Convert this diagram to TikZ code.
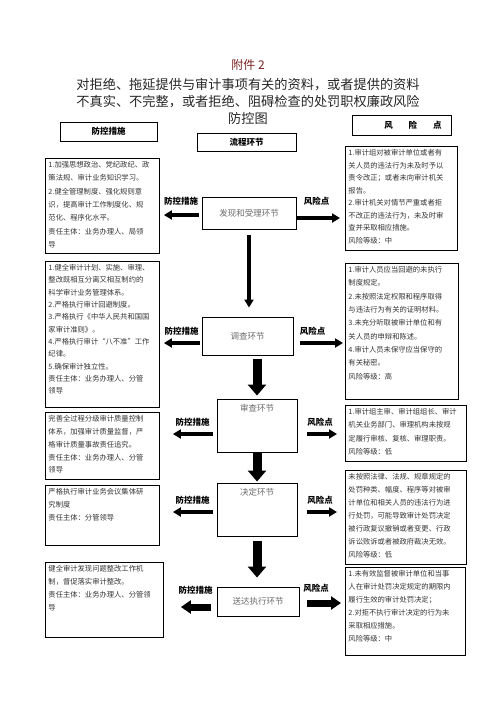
\documentclass[tikz,border=0pt]{standalone}
\usepackage{fontspec}
\setmainfont{Noto Sans CJK SC}
\usepackage{tikz}
\usetikzlibrary{arrows.meta}

\definecolor{titlered}{RGB}{122,32,32}
\definecolor{steptext}{RGB}{105,105,105}

\newcommand{\boxbody}[3]{\parbox[t][#2][t]{#1}{\raggedright #3}}

\begin{document}
\begin{tikzpicture}[x=1pt, y=-1pt,
    sidebox/.style={draw, line width=0.9pt, anchor=north west, inner sep=3pt, text=black!80, font=\fontsize{7.3}{12.8}\selectfont},
    headbox/.style={draw, line width=0.9pt, inner sep=0pt, font=\bfseries\fontsize{8.5}{10}\selectfont},
    stepbox/.style={draw, line width=0.9pt, inner sep=0pt, text=steptext, font=\fontsize{8.5}{10}\selectfont},
    steplabel/.style={anchor=north, yshift=-3pt, inner sep=3pt, text=steptext, font=\fontsize{8.5}{10}\selectfont},
    tag/.style={inner sep=1pt, font=\bfseries\fontsize{8.5}{10}\selectfont},
    thinarrow/.style={line width=3.5pt, -{Triangle[length=8pt, width=9pt]}},
    midarrow/.style={line width=7pt, -{Triangle[length=10pt, width=13pt]}},
    bigarrow/.style={line width=9pt, -{Triangle[length=11pt, width=18pt]}}]

    \useasboundingbox (0,0) rectangle (496,702);

    \node[text=titlered, font=\fontsize{12}{14}\selectfont] (fujian) at (248,65) {附件 2};

    \node[text=black!85, align=center, font=\fontsize{13.2}{17}\selectfont] (title) at (248,101) {对拒绝、拖延提供与审计事项有关的资料，或者提供的资料\\不真实、不完整，或者拒绝、阻碍检查的处罚职权廉政风险\\防控图};

    \node[headbox, minimum width=97pt, minimum height=19pt] (fkhead) at (108.5,131.5) {防控措施};

    \node[headbox, minimum width=99pt, minimum height=18pt] (lchead) at (246.5,142) {流程环节};

    \node[headbox, minimum width=99pt, minimum height=20pt] (fxhead) at (401.5,125) {\hspace*{23pt}风\hspace{16pt}险\hspace{16pt}点};

    \node[stepbox, minimum width=94pt, minimum height=32pt] (faxian) at (249,213) {发现和受理环节};

    \node[stepbox, minimum width=91pt, minimum height=38pt] (diaocha) at (247.5,336) {调查环节};

    \node[stepbox, minimum width=80pt, minimum height=53pt, label={[steplabel, name=shenchatext]north:审查环节}] (shencha) at (257,425.5) {};

    \node[stepbox, minimum width=80pt, minimum height=53pt, label={[steplabel, name=juedingtext]north:决定环节}] (jueding) at (257,509.5) {};

    \node[stepbox, minimum width=82pt, minimum height=29pt] (songda) at (258,601.5) {送达执行环节};

    \node[sidebox, font=\fontsize{7.3}{13.3}\selectfont] (fk1) at (45,158) {\boxbody{108pt}{89pt}{1.加强思想政治、党纪政纪、政\\策法规、审计业务知识学习。\\2.健全管理制度、强化规则意\\识，提高审计工作制度化、规\\范化、程序化水平。\\责任主体：业务办理人、局领\\导}};

    \node[sidebox, font=\fontsize{7.3}{12.3}\selectfont] (fk2) at (45,261) {\boxbody{108pt}{140pt}{1.健全审计计划、实施、审理、\\整改既相互分离又相互制约的\\科学审计业务管理体系。\\2.严格执行审计回避制度。\\3.严格执行《中华人民共和国国\\家审计准则》。\\4.严格执行审计“八不准”工作\\纪律。\\5.确保审计独立性。\\责任主体：业务办理人、分管\\领导}};

    \node[sidebox] (fk3) at (45,412) {\boxbody{108pt}{61pt}{完善全过程分级审计质量控制\\体系，加强审计质量监督，严\\格审计质量事故责任追究。\\责任主体：业务办理人、分管\\领导}};

    \node[sidebox] (fk4) at (45,485) {\boxbody{108pt}{54pt}{严格执行审计业务会议集体研\\究制度\\责任主体：分管领导}};

    \node[sidebox] (fk5) at (45,562) {\boxbody{112pt}{69pt}{健全审计发现问题整改工作机\\制，督促落实审计整改。\\责任主体：业务办理人、分管领\\导}};

    \node[sidebox, font=\fontsize{7.3}{12.5}\selectfont] (fx1) at (345,146) {\boxbody{106pt}{98pt}{1.审计组对被审计单位或者有\\关人员的违法行为未及时予以\\责令改正；或者未向审计机关\\报告。\\2.审计机关对情节严重或者拒\\不改正的违法行为，未及时审\\查并采取相应措施。\\风险等级：中}};

    \node[sidebox, font=\fontsize{7.3}{13.3}\selectfont] (fx2) at (345,263) {\boxbody{107pt}{130pt}{1.审计人员应当回避的未执行\\制度规定。\\2.未按照法定权限和程序取得\\与违法行为有关的证明材料。\\3.未充分听取被审计单位和有\\关人员的申辩和陈述。\\4.审计人员未保守应当保守的\\有关秘密。\\风险等级：高}};

    \node[sidebox, font=\fontsize{7.3}{13.3}\selectfont] (fx3) at (345,405) {\boxbody{115pt}{50pt}{1.审计组主审、审计组组长、审计\\机关业务部门、审理机构未按规\\定履行审核、复核、审理职责。\\风险等级：低}};

    \node[sidebox, font=\fontsize{7.3}{13}\selectfont] (fx4) at (345,470) {\boxbody{115pt}{88pt}{未按照法律、法规、规章规定的\\处罚种类、幅度、程序等对被审\\计单位和相关人员的违法行为进\\行处罚，可能导致审计处罚决定\\被行政复议撤销或者变更、行政\\诉讼败诉或者被政府裁决无效。\\风险等级：低}};

    \node[sidebox, font=\fontsize{7.3}{13}\selectfont] (fx5) at (345,567) {\boxbody{114pt}{82pt}{1.未有效监督被审计单位和当事\\人在审计处罚决定规定的期限内\\履行生效的审计处罚决定；\\2.对拒不执行审计决定的行为未\\采取相应措施。\\风险等级：中}};

    \draw[thinarrow] ([yshift=-6pt]faxian.south) -- ([yshift=9pt]faxian.south |- diaocha.north);

    \draw[bigarrow] ([yshift=-4pt]shencha.north |- diaocha.south) -- ([yshift=3pt]shencha.north);

    \draw[bigarrow] ([yshift=-1pt]shencha.south) -- ([yshift=1pt]jueding.north);

    \draw[bigarrow] ([yshift=-5pt]jueding.south) -- ([yshift=9pt]jueding.south |- songda.north);

    \draw[thinarrow] ([shift={(-3pt,-2pt)}]faxian.west) -- node[tag, above=7pt] (fktag1) {防控措施} ([shift={(4pt,-2pt)}]faxian.west -| fk1.east);

    \draw[thinarrow] ([shift={(1pt,-5pt)}]faxian.east) -- node[tag, above=10pt, xshift=-2pt] (fxtag1) {风险点} ([shift={(-5pt,-5pt)}]faxian.east -| fx1.west);

    \draw[thinarrow] ([shift={(-2pt,-7pt)}]diaocha.west) -- node[tag, above=4.5pt] (fktag2) {防控措施} ([shift={(4pt,-7pt)}]diaocha.west -| fk2.east);

    \draw[thinarrow] ([shift={(7pt,-7pt)}]diaocha.east) -- node[tag, above=4.5pt, xshift=-9pt] (fxtag2) {风险点} ([shift={(-2pt,-7pt)}]diaocha.east -| fx2.west);

    \draw[thinarrow] ([shift={(-4pt,-8.5pt)}]shencha.west) -- node[tag, above=5pt] (fktag3) {防控措施} ([shift={(13pt,-8.5pt)}]shencha.west -| fk3.east);

    \draw[thinarrow] ([shift={(10pt,-8.5pt)}]shencha.east) -- node[tag, above=5pt, xshift=-2pt] (fxtag3) {风险点} ([shift={(-8pt,-8.5pt)}]shencha.east -| fx3.west);

    \draw[thinarrow] ([shift={(-4pt,-2.5pt)}]jueding.west) -- node[tag, above=5pt] (fktag4) {防控措施} ([shift={(13pt,-2.5pt)}]jueding.west -| fk4.east);

    \draw[thinarrow] ([shift={(10pt,-2.5pt)}]jueding.east) -- node[tag, above=5pt, xshift=-2pt] (fxtag4) {风险点} ([shift={(-8pt,-2.5pt)}]jueding.east -| fx4.west);

    \draw[midarrow] ([shift={(-6pt,-5.5pt)}]songda.west) -- node[tag, above=8pt] (fktag5) {防控措施} ([shift={(17pt,-5.5pt)}]songda.west -| fk5.east);

    \draw[midarrow] ([shift={(8pt,-1.5pt)}]songda.east) -- node[tag, above=6pt, xshift=-8pt] (fxtag5) {风险点} ([shift={(-4pt,-1.5pt)}]songda.east -| fx5.west);

\end{tikzpicture}
\end{document}
